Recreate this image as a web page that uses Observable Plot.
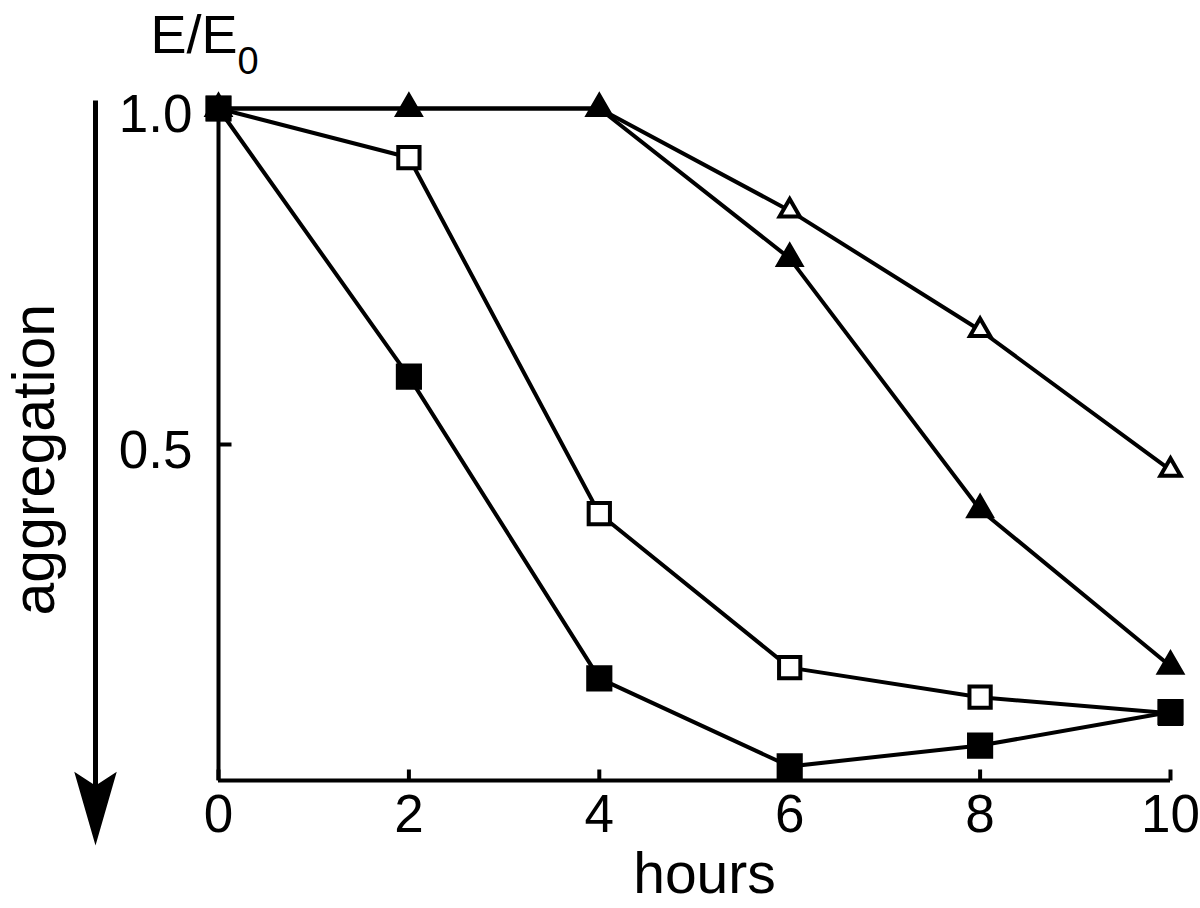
<!DOCTYPE html>
<html><head><meta charset="utf-8">
<script src="https://cdn.jsdelivr.net/npm/d3@7"></script>
<script src="https://cdn.jsdelivr.net/npm/@observablehq/plot@0.6"></script>
<style>body{margin:0;background:#fff} svg{display:block}</style>
</head><body><div id="chart"></div>
<script>
// ---- data ----
const hours = [0, 2, 4, 6, 8, 10];
const filledSquare   = [1.0, 0.601, 0.152, 0.021, 0.052, 0.102];
const openSquare     = [1.0, 0.927, 0.397, 0.168, 0.124, 0.100];
const filledTriangle = [1.0, 1.0, 1.0, 0.777, 0.403, 0.170];
const openTriangle   = [1.0, 1.0, 1.0, 0.848, 0.670, 0.462];
const xTicks = [0, 2, 4, 6, 8, 10];
const yTicks = [0.5, 1.0];
const xLabel = "hours";
const yLabel = "aggregation";
const topLabel = "E/E";
const topLabelSub = "0";

const rows = arr => hours.map((h, i) => ({hours: h, value: arr[i]}));

const tickShape = {draw(ctx, l) { ctx.moveTo(0, 0); ctx.lineTo(0, -l); }};
const bigArrow = {draw(ctx, l) {
  ctx.moveTo(0, 0); ctx.lineTo(0, -l + 40);
  ctx.moveTo(0, -l);
  ctx.lineTo(-17, -l + 59);
  ctx.lineTo(0, -l + 48);
  ctx.lineTo(17, -l + 59);
  ctx.closePath();
}};

const seriesMarks = (arr, symbol, fill, r) => [
  Plot.line(rows(arr), {x: "hours", y: "value", stroke: "black", strokeWidth: 4}),
  Plot.dot(rows(arr), {x: "hours", y: "value", symbol, r, fill, stroke: "black", strokeWidth: 4})
];

const chart = Plot.plot({
  width: 1200, height: 908,
  marginLeft: 218, marginRight: 30, marginTop: 108, marginBottom: 128,
  style: {fontFamily: "'Liberation Sans', Arial, sans-serif", fontSize: "53px", color: "black", background: "white"},
  x: {domain: [0, 10]},
  y: {domain: [0, 1]},
  marks: [
    Plot.axisX({ticks: xTicks, tickSize: 0, tickPadding: 14, label: null}),
    Plot.axisY({ticks: yTicks, tickSize: 0, tickPadding: 26, tickFormat: d3.format(".1f"), label: null, dy: 7}),
    Plot.vector(xTicks, {x: d => d, y: 0, length: 11, rotate: 0, anchor: "start", shape: tickShape, strokeWidth: 4, strokeLinecap: "butt"}),
    Plot.vector(yTicks, {x: 0, y: d => d, length: 13, rotate: 90, anchor: "start", shape: tickShape, strokeWidth: 4, strokeLinecap: "butt"}),
    Plot.ruleY([0], {strokeWidth: 4}),
    Plot.ruleX([0], {strokeWidth: 4}),
    ...seriesMarks(openTriangle, "triangle", "white", 7.5),
    ...seriesMarks(filledTriangle, "triangle", "black", 8.5),
    ...seriesMarks(openSquare, "square", "white", 12),
    ...seriesMarks(filledSquare, "square", "black", 12.5),
    Plot.vector([0], {frameAnchor: "top-left", dx: -123, dy: -8, length: 736, rotate: 180, anchor: "start",
      shape: bigArrow, stroke: "black", fill: "black", strokeWidth: 5, strokeLinecap: "butt", strokeLinejoin: "miter"}),
    Plot.text([yLabel], {frameAnchor: "left", text: d => d, rotate: -90, dx: -183, dy: 171, fontSize: 59}),
    Plot.text([xLabel], {frameAnchor: "bottom", text: d => d, dx: 10, dy: 112, fontSize: 57}),
    Plot.text([topLabel], {frameAnchor: "top-left", text: d => d, textAnchor: "start", dx: -68, dy: -94, fontSize: 54}),
    Plot.text([topLabelSub], {frameAnchor: "top-left", text: d => d, textAnchor: "start", dx: 19, dy: -61, fontSize: 38})
  ]
});
document.getElementById("chart").append(chart);
</script>
</body></html>
